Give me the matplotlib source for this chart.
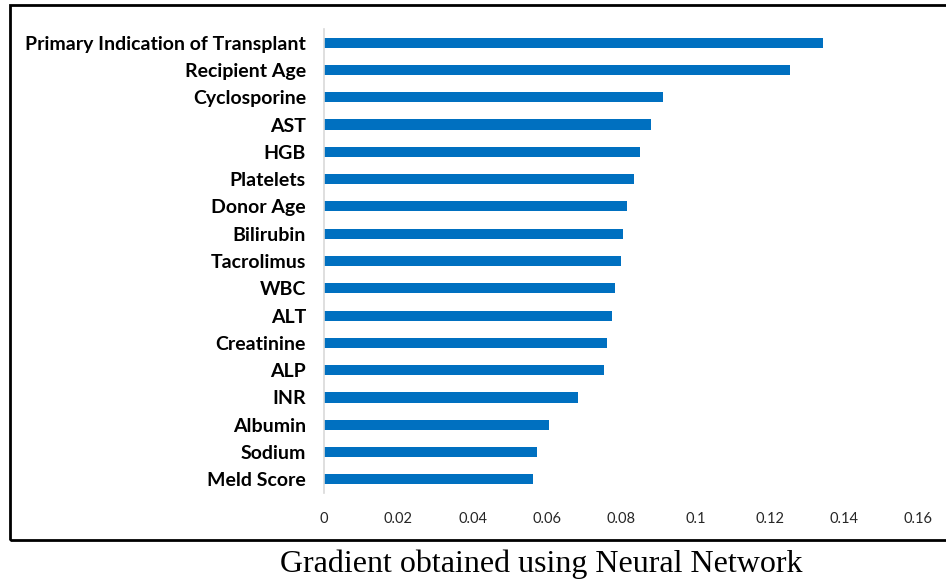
import matplotlib.pyplot as plt
from matplotlib.patches import Rectangle

# feature importance (gradient) values, top to bottom
features = ['Primary Indication of Transplant', 'Recipient Age', 'Cyclosporine',
            'AST', 'HGB', 'Platelets', 'Donor Age', 'Bilirubin', 'Tacrolimus',
            'WBC', 'ALT', 'Creatinine', 'ALP', 'INR', 'Albumin', 'Sodium',
            'Meld Score']
gradients = [0.1344, 0.1255, 0.0914, 0.0882, 0.0852, 0.0834, 0.0816, 0.0806,
             0.0800, 0.0783, 0.0775, 0.0762, 0.0755, 0.0683, 0.0605, 0.0573,
             0.0564]
xticks = [0, 0.02, 0.04, 0.06, 0.08, 0.1, 0.12, 0.14, 0.16]
xtick_labels = ['0', '0.02', '0.04', '0.06', '0.08', '0.1', '0.12', '0.14', '0.16']

fig = plt.figure(figsize=(9.46, 5.86), dpi=100)
ax = fig.add_axes([0.3425, 0.1587, 0.628, 0.7918])

y = list(range(len(features)))[::-1]
ax.barh(y, gradients, height=0.37, color='#0070C0')

ax.set_xlim(0, 0.16)
ax.set_ylim(-0.5, len(features) - 0.5)
ax.set_yticks(y)
ax.set_yticklabels(features, fontfamily='Lato', fontweight='bold', fontsize=14)
ax.set_xticks(xticks)
ax.set_xticklabels(xtick_labels, fontfamily='Lato', fontsize=10.5, color='#262626')
ax.tick_params(axis='both', length=0)
ax.tick_params(axis='y', pad=13)
ax.tick_params(axis='x', pad=14)

for side in ['top', 'right', 'bottom']:
    ax.spines[side].set_visible(False)
ax.spines['left'].set_color('#d9d9d9')
ax.spines['left'].set_linewidth(1.2)

# frame around the chart like the pasted figure
fig.patches.append(Rectangle((10 / 946, 1 - 540 / 586), 940 / 946, 535 / 586,
                             transform=fig.transFigure, fill=False,
                             edgecolor='black', linewidth=2))

fig.text(541 / 946, 1 - 564 / 586, 'Gradient obtained using Neural Network',
         ha='center', va='center', fontfamily='Liberation Serif', fontsize=23)

fig.savefig('out.png', dpi=100)
